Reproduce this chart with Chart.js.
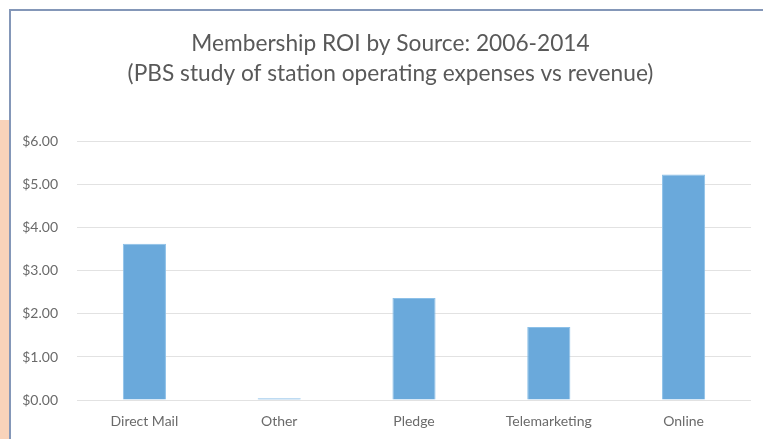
<!DOCTYPE html>
<html>
<head>
<meta charset="utf-8">
<script src="https://cdn.jsdelivr.net/npm/chart.js@4"></script>
<style>
html,body{margin:0;padding:0;background:#fff;}
#wrap{position:relative;width:763px;height:439px;overflow:hidden;}
#peach{position:absolute;left:0;top:120px;width:9px;height:319px;background:#f8d3ba;}
#frame{position:absolute;left:9px;top:9px;width:760px;height:440px;border-left:2px solid #8497b8;border-top:2px solid #8497b8;box-sizing:border-box;}
canvas{position:absolute;left:0;top:0;}
</style>
</head>
<body>
<div id="wrap">
<div id="peach"></div>
<div id="frame"></div>
<canvas id="c" width="763" height="439"></canvas>
</div>
<script>
const categories = ["Direct Mail", "Other", "Pledge", "Telemarketing", "Online"];
const roiValues = [3.63, 0.04, 2.37, 1.70, 5.24];
const titleLines = ["Membership ROI by Source: 2006-2014", "(PBS study of station operating expenses vs revenue)"];

const FONT = "Lato, 'Open Sans', sans-serif";
const shiftTitle = {
  id: 'shiftTitle',
  afterLayout(chart) {
    if (chart.titleBlock) { chart.titleBlock.left += 20; }
  }
};
new Chart(document.getElementById('c'), {
  type: 'bar',
  plugins: [shiftTitle],
  data: {
    labels: categories,
    datasets: [{
      data: roiValues,
      backgroundColor: '#6aa9db',
      borderColor: '#8cc0e8',
      borderWidth: {top:1,left:1,right:1,bottom:0},
      barPercentage: 0.32,
      categoryPercentage: 1.0
    }]
  },
  options: {
    responsive: false,
    animation: false,
    layout: {padding: {left: 10, right: 12, top: 0, bottom: 0}},
    plugins: {
      legend: {display: false},
      tooltip: {enabled: false},
      title: {
        display: true,
        text: titleLines,
        color: '#595959',
        font: {family: FONT, size: 22.7, weight: 'normal', lineHeight: 1.32},
        padding: {top: 29, bottom: 53}
      }
    },
    scales: {
      x: {
        grid: {display: false, drawTicks: false},
        border: {display: false},
        ticks: {color: '#6a6a6a', font: {family: FONT, size: 14}, padding: 13},
        afterFit: s => { s.height = 39; }
      },
      y: {
        min: 0, max: 6,
        grid: {color: '#e2e2e2', drawTicks: false, lineWidth: 1},
        border: {display: false},
        ticks: {
          stepSize: 1,
          color: '#6a6a6a',
          font: {family: FONT, size: 14},
          padding: 19,
          callback: v => '$' + Number(v).toFixed(2)
        },
        afterFit: s => { s.width = 67; }
      }
    }
  }
});
</script>
</body>
</html>
